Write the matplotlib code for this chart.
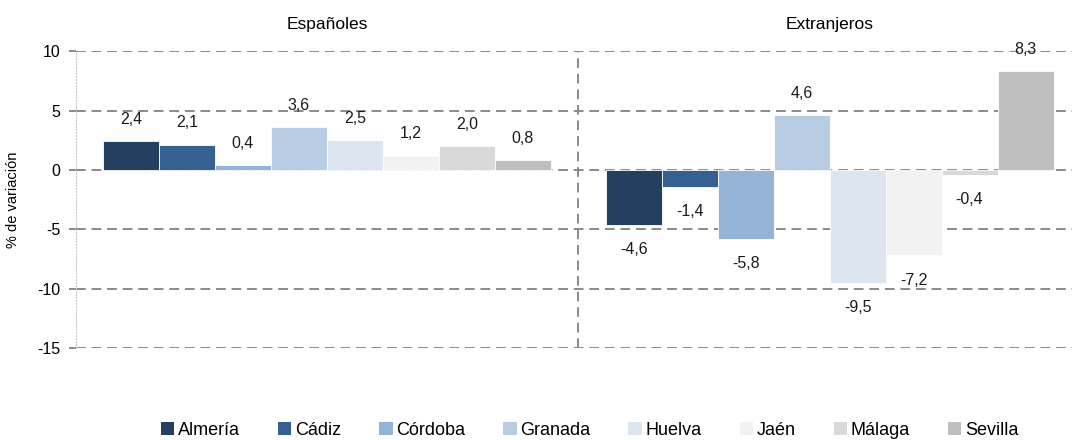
import matplotlib
matplotlib.use("Agg")
import matplotlib.pyplot as plt
import matplotlib.transforms as mtransforms
from matplotlib.patches import Patch
import numpy as np
from matplotlib import font_manager

# ---- data ----
groups = ["Españoles", "Extranjeros"]
provinces = ["Almería", "Cádiz", "Córdoba", "Granada", "Huelva", "Jaén", "Málaga", "Sevilla"]
espanoles = [2.4, 2.1, 0.4, 3.6, 2.5, 1.2, 2.0, 0.8]
extranjeros = [-4.6, -1.4, -5.8, 4.6, -9.5, -7.2, -0.4, 8.3]
yticks = [10, 5, 0, -5, -10, -15]
ytick_labels = ["10", "5", "0", "-5", "-10", "-15"]
colors = ["#253F60", "#366092", "#95B3D7", "#B8CCE4", "#DCE6F1", "#F2F2F2", "#D9D9D9", "#BFBFBF"]

avail = {f.name for f in font_manager.fontManager.ttflist}
fam = ["Liberation Sans Narrow", "Liberation Sans", "DejaVu Sans"]
fam = [f for f in fam if f in avail] or ["DejaVu Sans"]
plt.rcParams["font.family"] = fam

fig = plt.figure(figsize=(10.72, 4.4), dpi=100)
ax = fig.add_axes([75.5 / 1072, (440 - 348) / 440, (1081 - 75.5) / 1072, (348 - 51.3) / 440])

values = [espanoles, extranjeros]
n = len(provinces)
bw = 56 / 503
x = np.arange(len(groups))
for i, prov in enumerate(provinces):
    vals = [values[g][i] for g in range(len(groups))]
    pos = x + (i - (n - 1) / 2) * bw
    bars = ax.bar(pos, vals, width=bw, color=colors[i], edgecolor="white", linewidth=0.6, zorder=2)
    for b, v in zip(bars, vals):
        off = 16 if v >= 0 else -18
        ax.annotate(f"{v:.1f}".replace(".", ","), (b.get_x() + b.get_width() / 2, v),
                    xytext=(0, off), textcoords="offset points", ha="center", va="center",
                    fontsize=11.5, color="#1a1a1a", zorder=3)

ax.set_xlim(-0.5, 1.5)
ax.set_ylim(-15, 10)
ax.set_xticks([])
ax.set_yticks(yticks)
ax.set_yticklabels(ytick_labels, fontsize=11.5)
ax.tick_params(axis="y", length=5, width=1.4, color="#8a8a8a", pad=6)
dash = (0, (5, 3))
for t in yticks:
    ax.axhline(t, color="#8a8a8a", lw=1.4, linestyle=dash, zorder=1)
ax.axvline(0.5, color="#8a8a8a", lw=1.4, linestyle=dash, zorder=1)
for s in ["top", "right", "bottom"]:
    ax.spines[s].set_visible(False)
ax.spines["left"].set_color("#C8C8C8")
ax.spines["left"].set_linestyle(":")
ax.spines["left"].set_linewidth(0.8)
ax.set_ylabel("% de variación", fontsize=10.5, labelpad=10)
ax.yaxis.set_label_coords(-0.055, 0.5)

trans = mtransforms.blended_transform_factory(ax.transData, fig.transFigure)
for gi, g in enumerate(groups):
    fig.text(x[gi], 1 - 25 / 440, g, transform=trans, ha="center", va="center", fontsize=12.5)

handles = [Patch(facecolor=c, edgecolor="none", label=p) for c, p in zip(colors, provinces)]
fig.legend(handles=handles, loc="center", bbox_to_anchor=(0.55, 1 - 430 / 440), ncol=8,
           frameon=False, handlelength=0.75, handleheight=0.75, handletextpad=0.2,
           columnspacing=2.1, fontsize=13)

fig.savefig("out.png", dpi=100)
